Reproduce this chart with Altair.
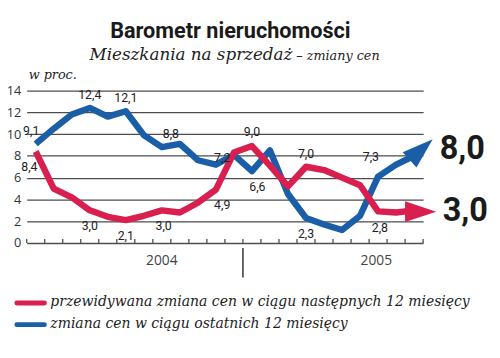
import altair as alt
import pandas as pd

# ---------------- data ----------------
months = list(range(22))  # 0 = Jan 2004 ... 21 = Oct 2005
blue_vals = [9.1, 10.5, 11.8, 12.4, 11.6, 12.1, 9.9, 8.8, 9.1, 7.6, 7.2, 8.1,
             6.6, 8.5, 4.5, 2.3, 1.7, 1.2, 2.5, 6.1, 7.2, 8.0]
red_vals = [8.4, 5.0, 4.2, 3.0, 2.4, 2.1, 2.5, 3.0, 2.8, 3.7, 4.9, 8.3,
            8.9, 7.1, 5.2, 7.0, 6.7, 6.0, 5.3, 2.9, 2.8, 3.0]

series_names = ["przewidywana zmiana cen w ciągu następnych 12 miesięcy",
                "zmiana cen w ciągu ostatnich 12 miesięcy"]
series_colors = ["#d81f4f", "#1a5ea8"]

y_ticks = [0, 2, 4, 6, 8, 10, 12, 14]
month_bounds = [m - 0.5 for m in range(23)]
year_labels = ["2004", "2005"]
year_label_month = [7.0, 18.9]
year_divider = [11.5]

label_text = ["9,1", "12,4", "12,1", "8,8", "7,2", "6,6", "2,3", "7,3",
              "8,4", "3,0", "2,1", "3,0", "4,9", "9,0", "7,0", "2,8"]
label_value = [9.1, 12.4, 12.1, 8.8, 7.2, 6.6, 2.3, 7.3,
               8.4, 3.0, 2.1, 3.0, 4.9, 9.0, 7.0, 2.8]
label_month = [-0.25, 3.0, 5.0, 7.5, 10.35, 12.3, 15.0, 18.6,
               -0.35, 3.0, 5.0, 7.1, 10.35, 12.0, 15.0, 19.1]
label_place = ["above", "above", "above", "above", "near", "below", "below", "near",
               "below", "below", "below", "below", "below", "above", "above", "below"]

end_text = ["8,0", "3,0"]
end_series = ["blue", "red"]
end_value = [8.0, 3.0]
end_month = [21, 21]

arrow_month = [21.39, 21.36]
arrow_value = [8.58, 2.88]

title = "Barometr nieruchomości"
subtitle_a = "Mieszkania na sprzedaż"
subtitle_b = "– zmiany cen"
unit_label = "w proc."

# ---------------- layout ----------------
W, H = 403, 155
xs = alt.Scale(domain=[-0.5, 21.5], nice=False, zero=False)
ys = alt.Scale(domain=[0, 14], nice=False, zero=False)
yaxis = alt.Axis(values=y_ticks, grid=True, gridColor="#4d4d4d", gridWidth=1.3,
                 domain=False, ticks=False, labelPadding=6, labelFont="Open Sans",
                 labelFontSize=13, labelColor="#333333", title=None)


def X(field):
    return alt.X(field, scale=xs, axis=None)


def Y(field):
    return alt.Y(field, scale=ys, axis=yaxis)


df_blue = pd.DataFrame({"month": months, "value": blue_vals})
df_red = pd.DataFrame({"month": months, "value": red_vals})

blue_line = alt.Chart(df_blue).mark_line(strokeWidth=6.5, strokeJoin="round", color=series_colors[1]).encode(
    x=X("month:Q"), y=Y("value:Q"))
red_line = alt.Chart(df_red).mark_line(strokeWidth=6.5, strokeJoin="round", color=series_colors[0]).encode(
    x=X("month:Q"), y=Y("value:Q"))

arrow_shape = "M-1,-0.66L1,0L-1,0.66Z"
df_arrow = pd.DataFrame({"month": arrow_month, "value": arrow_value, "series": ["blue", "red"]})
blue_head = alt.Chart(df_arrow).transform_filter("datum.series == 'blue'").mark_point(
    shape=arrow_shape, size=1000, filled=True, opacity=1, angle=318, color=series_colors[1], strokeWidth=0
).encode(x=X("month:Q"), y=Y("value:Q"))
red_head = alt.Chart(df_arrow).transform_filter("datum.series == 'red'").mark_point(
    shape=arrow_shape, size=1000, filled=True, opacity=1, angle=0, color=series_colors[0], strokeWidth=0
).encode(x=X("month:Q"), y=Y("value:Q"))

# x ticks and divider
df_bounds = pd.DataFrame({"b": month_bounds})
ticks = alt.Chart(df_bounds).mark_rule(color="#4d4d4d", strokeWidth=1.3).encode(
    x=X("b:Q"), y=alt.value(H), y2=alt.value(H - 4))
df_div = pd.DataFrame({"b": year_divider})
divider = alt.Chart(df_div).mark_rule(color="#333333", strokeWidth=1.5).encode(
    x=X("b:Q"), y=alt.value(H + 5), y2=alt.value(H + 35))
df_years = pd.DataFrame({"t": year_labels, "m": year_label_month})
years = alt.Chart(df_years).mark_text(font="Open Sans", fontSize=14, color="#444444", baseline="middle").encode(
    x=X("m:Q"), y=alt.value(H + 18), text="t:N")

# value labels
df_lab = pd.DataFrame({"t": label_text, "v": label_value, "m": label_month, "p": label_place})
lab_layers = []
for place, dy in [("above", -13), ("near", -7), ("below", 16)]:
    lab_layers.append(
        alt.Chart(df_lab).transform_filter(f"datum.p == '{place}'").mark_text(
            font="Roboto", fontSize=12.5, color="#222222", baseline="middle", dy=dy
        ).encode(x=X("m:Q"), y=Y("v:Q"), text="t:N")
    )

df_end = pd.DataFrame({"t": end_text, "v": end_value, "m": end_month, "s": end_series})
end_blue = alt.Chart(df_end).transform_filter("datum.s == 'blue'").mark_text(
    font="Roboto", fontWeight="bold", fontSize=33, color="#1a1a1a", align="left", baseline="middle", dx=26, dy=-7
).encode(x=X("m:Q"), y=Y("v:Q"), text="t:N")
end_red = alt.Chart(df_end).transform_filter("datum.s == 'red'").mark_text(
    font="Roboto", fontWeight="bold", fontSize=33, color="#1a1a1a", align="left", baseline="middle", dx=29, dy=1
).encode(x=X("m:Q"), y=Y("v:Q"), text="t:N")

# titles
df_title = pd.DataFrame({"t": [title]})
title_mark = alt.Chart(df_title).mark_text(
    font="Roboto", fontWeight="bold", fontSize=22, color="#1a1a1a", align="center", baseline="alphabetic"
).encode(x=alt.value(207), y=alt.value(-53), text="t:N")
df_sa = pd.DataFrame({"t": [subtitle_a]})
sub_a = alt.Chart(df_sa).mark_text(
    font="DejaVu Serif", fontStyle="italic", fontSize=17, color="#222222", align="right", baseline="alphabetic"
).encode(x=alt.value(270), y=alt.value(-31), text="t:N")
df_sb = pd.DataFrame({"t": [subtitle_b]})
sub_b = alt.Chart(df_sb).mark_text(
    font="DejaVu Serif", fontStyle="italic", fontSize=13, color="#222222", align="left", baseline="alphabetic"
).encode(x=alt.value(274), y=alt.value(-31), text="t:N")
df_unit = pd.DataFrame({"t": [unit_label]})
unit = alt.Chart(df_unit).mark_text(
    font="DejaVu Serif", fontStyle="italic", fontSize=13, color="#222222", align="left", baseline="alphabetic"
).encode(x=alt.value(2), y=alt.value(-12), text="t:N")

# legend
leg_layers = []
for i, ly in enumerate([216, 238]):
    df_leg = pd.DataFrame({"name": [series_names[i]]})
    leg_layers.append(alt.Chart(df_leg).mark_rule(strokeWidth=5, strokeCap="round", color=series_colors[i]).encode(
        x=alt.value(-10), x2=alt.value(18), y=alt.value(ly)))
    leg_layers.append(alt.Chart(df_leg).mark_text(
        font="DejaVu Serif", fontStyle="italic", fontSize=14.2, color="#222222", align="left", baseline="middle"
    ).encode(x=alt.value(24), y=alt.value(ly - 1), text="name:N"))

chart = alt.layer(
    blue_line, red_line, blue_head, red_head, ticks, divider, years,
    *lab_layers, end_blue, end_red, title_mark, sub_a, sub_b, unit, *leg_layers
).properties(
    width=W, height=H,
    autosize=alt.AutoSizeParams(type="none"),
    padding={"left": 19, "top": 81, "right": 70, "bottom": 114},
    background="white",
).configure_view(stroke=None)

chart.save("out.html", embed_options={"renderer": "svg", "actions": False})
